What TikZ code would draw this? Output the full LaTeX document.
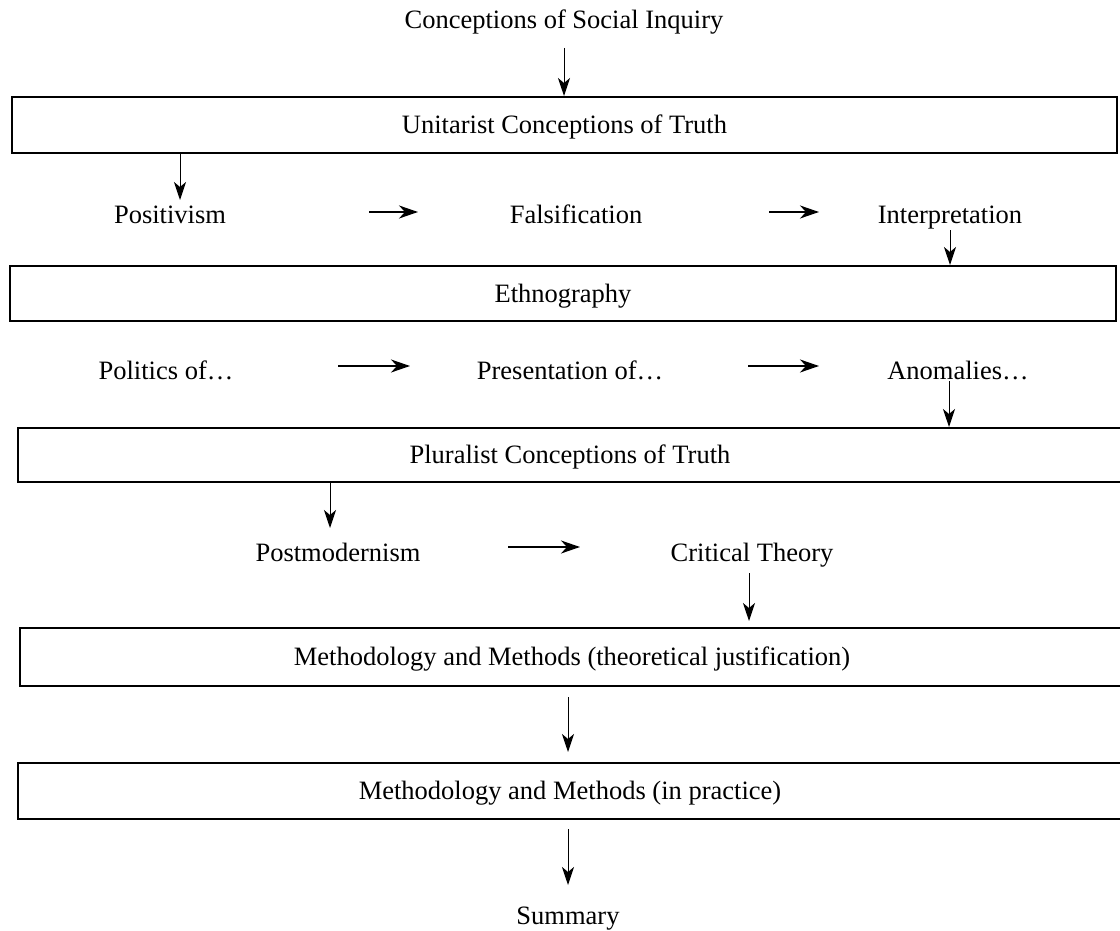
\documentclass[tikz,border=0pt]{standalone}
\usepackage{fontspec}
\setmainfont{Liberation Serif}
\usetikzlibrary{arrows.meta,calc}

\tikzset{
  lbl/.style={inner sep=0pt, text height=17pt, text depth=0pt,
    font=\fontsize{26.5}{30}\selectfont},
  stage/.style={lbl, draw, line width=2pt, minimum width=1104pt},
  varr/.style={line width=1pt, -{Stealth[length=18pt,width=12pt,inset=5pt]}},
  harr/.style={line width=2pt, -{Stealth[length=19pt,width=13pt,inset=6pt]}}
}

\begin{document}
\begin{tikzpicture}[x=1pt,y=-1pt]
\useasboundingbox (0,0) rectangle (1120,931);

% headings and stages
\node[lbl] (title) at (564,20.5) {Conceptions of Social Inquiry};
\node[stage, minimum width=1105pt, minimum height=56pt] (b1) at (564.5,125) {Unitarist Conceptions of Truth};

\node[lbl] (pos)    at (170,215.5) {Positivism};
\node[lbl] (fal)    at (576,215.5) {Falsification};
\node[lbl] (interp) at (950,215.5) {Interpretation};

\node[stage, minimum width=1106pt, minimum height=55pt] (b2) at (563,293.5) {Ethnography};

\node[lbl] (pol)  at (166,370.5) {Politics of…};
\node[lbl] (pres) at (570,370.5) {Presentation of…};
\node[lbl] (anom) at (958,370.5) {Anomalies…};

\node[stage, minimum height=54pt] (b3) at (570,455) {Pluralist Conceptions of Truth};

\node[lbl] (postm) at (338,552.5) {Postmodernism};
\node[lbl] (crit)  at (752,552.5) {Critical Theory};

\node[stage, minimum height=58pt] (b4) at (572,657) {Methodology and Methods (theoretical justification)};
\node[stage, minimum height=56pt] (b5) at (570,791) {Methodology and Methods (in practice)};

\node[lbl] (summ) at (568,915.5) {Summary};

% vertical connectors
\draw[varr] ($(title)+(0,27.5)$) -- (b1.north -| title);
\draw[varr] ($(b1.south -| pos)+(10,0)$) -- ($(pos)+(10,-15.5)$);
\draw[varr] ($(interp)+(0,14.5)$) -- (b2.north -| interp);
\draw[varr] ($(anom)+(-9,10.5)$) -- ($(b3.north -| anom)+(-9,0)$);
\draw[varr] ($(b3.south -| postm)+(-8,0)$) -- ($(postm)+(-8,-24.5)$);
\draw[varr] ($(crit)+(-3,20.5)$) -- ($(b4.north -| crit)+(-3,-6)$);
\draw[varr] ($(b4.south -| summ)+(0,10)$) -- ($(b5.north -| summ)+(0,-10)$);
\draw[varr] ($(b5.south -| summ)+(0,9)$) -- ($(summ)+(0,-30.5)$);

% horizontal connectors
\draw[harr] ($(pos)+(199,-3.5)$) -- ($(fal)+(-158,-3.5)$);
\draw[harr] ($(fal)+(193,-3.5)$) -- ($(interp)+(-131,-3.5)$);
\draw[harr] ($(pol)+(172,-4.5)$) -- ($(pres)+(-160,-4.5)$);
\draw[harr] ($(pres)+(178,-4.5)$) -- ($(anom)+(-139,-4.5)$);
\draw[harr] ($(postm)+(170,-5.5)$) -- ($(crit)+(-172,-5.5)$);
\end{tikzpicture}
\end{document}
